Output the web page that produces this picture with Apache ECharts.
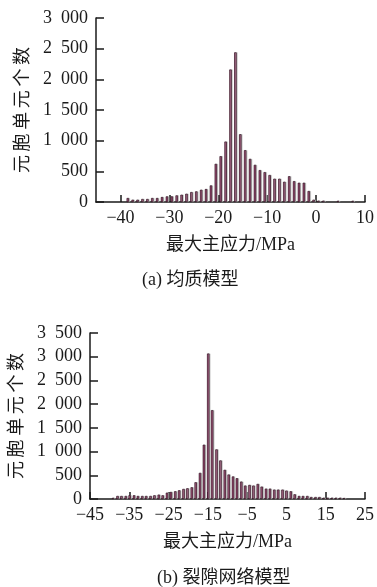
<!DOCTYPE html>
<html>
<head>
<meta charset="utf-8">
<script src="https://cdn.jsdelivr.net/npm/echarts@6/dist/echarts.min.js"></script>
<style>
  html, body { margin: 0; padding: 0; background: #fff; }
  #main { width: 377px; height: 587px; }
</style>
</head>
<body>
<div id="main"></div>
<script>
// (a) 均质模型 — bin centres (MPa) and counts
var aBins = [-38.5, -37.5, -36.5, -35.5, -34.5, -33.5, -32.5, -31.5, -30.5, -29.5,
	-28.5, -27.5, -26.5, -25.5, -24.5, -23.5, -22.5, -21.5, -20.5, -19.5,
	-18.5, -17.5, -16.5, -15.5, -14.5, -13.5, -12.5, -11.5, -10.5, -9.5,
	-8.5, -7.5, -6.5, -5.5, -4.5, -3.5, -2.5, -1.5, -0.5, 0.5, 1.5, 4.5, 7.5]
var aCounts = [65, 38, 38, 49, 49, 65, 65, 81, 92, 92,
	108, 119, 135, 162, 173, 200, 211, 270, 622, 747,
	985, 2160, 2440, 1105, 845, 703, 606, 520, 487, 440,
	380, 380, 330, 420, 340, 314, 314, 179, 38, 22, 22, 20, 20]

// (b) 裂隙网络模型
var bBins = [-39.1, -38.0, -37.0, -35.9, -34.9, -33.8, -32.8, -31.7, -30.7, -29.6,
	-28.6, -27.5, -26.5, -25.4, -24.4, -23.3, -22.3, -21.2, -20.2, -19.1,
	-18.1, -17.0, -16.0, -14.9, -13.9, -12.8, -11.8, -10.7, -9.7, -8.6,
	-7.6, -6.5, -5.5, -4.4, -3.4, -2.3, -1.3, -0.2, 0.8, 1.9,
	2.9, 4.0, 5.0, 6.1, 7.1, 8.2, 9.2, 10.3, 11.3, 12.4,
	13.4, 14.5, 15.5, 16.6, 17.6, 18.7, 19.7]
var bCounts = [25, 64, 64, 64, 80, 78, 64, 64, 64, 64,
	78, 92, 78, 134, 148, 163, 184, 212, 226, 247,
	353, 551, 1145, 3067, 1873, 1046, 813, 615, 516, 475,
	438, 367, 283, 297, 283, 318, 261, 219, 219, 198,
	198, 198, 177, 163, 99, 64, 64, 64, 42, 42,
	42, 28, 28, 28, 28, 28, 21]

var aTicks = [-40, -30, -20, -10, 0, 10]
var bTicks = [-45, -35, -25, -15, -5, 5, 15, 25]

var yNameText = '元胞单元个数'
var xNameText = '最大主应力/MPa'
var captionA = '(a) 均质模型'
var captionB = '(b) 裂隙网络模型'

var serif = "'Liberation Serif', 'Noto Sans CJK SC', serif"
var ink = '#1a1a1a'

function pairs(xs, ys) {
	var out = []
	for (var i = 0; i < xs.length; i++) out.push([xs[i], ys[i]])
	return out
}
function fmtX(v) {
	return v < 0 ? '\u2212' + (-v) : String(v)
}
function fmtY(v) {
	if (v >= 1000) {
		var r = String(v % 1000)
		while (r.length < 3) r = '0' + r
		return Math.floor(v / 1000) + '\u2002' + r
	}
	return String(v)
}
function spaced(s) {
	return s.split('').join('\u2009')
}

function xAxisOf(idx, min, max, ticks) {
	return {
		type: 'value', gridIndex: idx, min: min, max: max,
		name: xNameText, nameLocation: 'middle', nameGap: 34,
		nameTextStyle: { fontFamily: serif, fontSize: 18, color: ink },
		axisLine: { onZero: false, lineStyle: { color: ink, width: 1.5 } },
		axisTick: { inside: true, length: 7, customValues: ticks, lineStyle: { color: ink, width: 1.5 } },
		axisLabel: { customValues: ticks, formatter: fmtX, margin: 7, fontFamily: serif, fontSize: 18, color: ink },
		splitLine: { show: false }
	}
}
function yAxisOf(idx, max) {
	return {
		type: 'value', gridIndex: idx, min: 0, max: max, interval: 500,
		name: spaced(yNameText), nameLocation: 'middle', nameRotate: 90, nameGap: 63,
		nameTextStyle: { fontFamily: serif, fontSize: 18, color: ink },
		axisLine: { show: true, onZero: false, lineStyle: { color: ink, width: 1.5 } },
		axisTick: { show: true, inside: true, length: 8, lineStyle: { color: ink, width: 1.5 } },
		axisLabel: { formatter: fmtY, margin: 8, fontFamily: serif, fontSize: 18, color: ink },
		splitLine: { show: false }
	}
}
function barSeries(idx, data) {
	return {
		type: 'bar', xAxisIndex: idx, yAxisIndex: idx,
		data: data, barWidth: 2.4,
		itemStyle: {
			color: '#8a1d52', borderColor: '#240c18', borderWidth: 0.6,
			shadowColor: 'rgba(185,185,185,0.85)', shadowOffsetX: 1, shadowBlur: 0.2
		},
		animation: false
	}
}

var myChart = echarts.init(document.getElementById('main'))
var option = {
	animation: false,
	title: [
		{ text: captionA, left: 137, top: 266, textStyle: { fontFamily: serif, fontSize: 18, fontWeight: 'normal', color: ink } },
		{ text: captionB, left: 152, top: 564, textStyle: { fontFamily: serif, fontSize: 18, fontWeight: 'normal', color: ink } }
	],
	grid: [
		{ left: 96, top: 18, width: 271, height: 184 },
		{ left: 90, top: 333, width: 276, height: 166 }
	],
	xAxis: [xAxisOf(0, -45, 10, aTicks), xAxisOf(1, -45, 25, bTicks)],
	yAxis: [yAxisOf(0, 3000), yAxisOf(1, 3500)],
	series: [barSeries(0, pairs(aBins, aCounts)), barSeries(1, pairs(bBins, bCounts))]
}
myChart.setOption(option)
</script>
</body>
</html>
